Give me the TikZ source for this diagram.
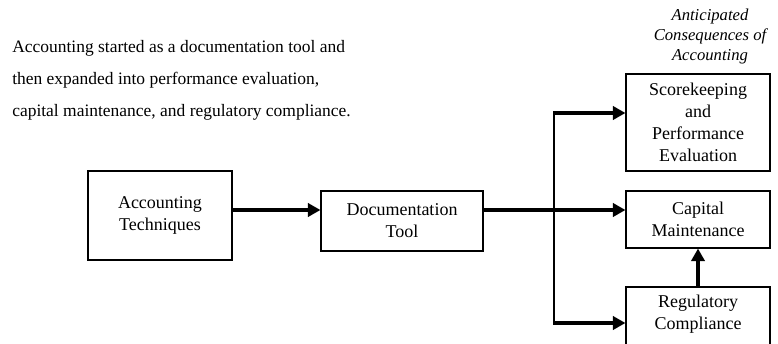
\documentclass[tikz,border=0pt]{standalone}
\usepackage{fontspec}
\setmainfont{Liberation Serif}
\usetikzlibrary{arrows.meta}

\tikzset{
  box/.style={draw, line width=.8pt, align=center, inner sep=0pt,
    font=\fontsize{13.5}{16.5}\selectfont},
  flow/.style={line width=3pt, -{Triangle[length=9.5pt,width=10pt]}},
  split/.style={line width=1pt},
}

\begin{document}
\begin{tikzpicture}[x=.75pt, y=-.75pt]
    \useasboundingbox (0,0) rectangle (778,343);

    % note and heading
    \node[anchor=west, align=left, inner sep=0pt,
      font=\fontsize{13.1}{24}\selectfont] (note) at (12, 80.5)
      {Accounting started as a documentation tool and\\
       then expanded into performance evaluation,\\
       capital maintenance, and regulatory compliance.};
    \node[align=center, inner sep=0pt,
      font=\fontsize{12.5}{15}\selectfont\itshape] (head) at (710, 36)
      {Anticipated\\Consequences of\\Accounting};

    %%%%
    \node[box, minimum width=108pt, minimum height=66.75pt] (tech)
      at (160, 215.5) {Accounting\\Techniques};
    \node[box, minimum width=121.5pt, minimum height=45pt] (doc)
      at (402, 221) {Documentation\\Tool};

    \node[box, minimum width=108pt, minimum height=72.75pt] (score)
      at (698, 122.5) {Scorekeeping\\and\\Performance\\Evaluation};
    \node[box, minimum width=108pt, minimum height=42.75pt] (capital)
      at (698, 219.5) {Capital\\Maintenance};
    \node[box, minimum width=108pt, minimum height=60pt] (reg)
      at (698, 327) {Regulatory\\Compliance\\\strut};

    %%%%
    \coordinate (mid) at (554, 210);
    \coordinate (up) at (554, 113);
    \coordinate (down) at (554, 323);

    \draw[flow] (tech.east |- mid) -- (doc.west |- mid);
    \draw[flow] (doc.east |- mid) -- (capital.west |- mid);
    \draw[split] (up) -- (down);
    \draw[flow] ([xshift=-.5pt]up) -- (score.west |- up);
    \draw[flow] ([xshift=-.5pt]down) -- (reg.west |- down);
    \draw[flow] (reg.north) -- (capital.south);
\end{tikzpicture}
\end{document}
